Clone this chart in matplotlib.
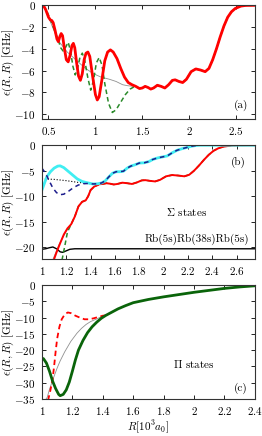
import numpy as np
import matplotlib
matplotlib.use("Agg")
import matplotlib.pyplot as plt
from matplotlib.ticker import FuncFormatter

plt.rcParams['font.family'] = 'serif'
plt.rcParams['font.serif'] = ['cmr10']
plt.rcParams['mathtext.fontset'] = 'cm'
plt.rcParams['axes.unicode_minus'] = False
plt.rcParams['font.size'] = 8

# panel (a)
a_red_x = [0.445, 0.47, 0.50, 0.52, 0.535, 0.55, 0.57, 0.59, 0.605, 0.62, 0.635, 0.65, 0.67, 0.69, 0.71,
           0.73, 0.75, 0.765, 0.78, 0.80, 0.82, 0.84, 0.86, 0.88, 0.90, 0.92, 0.94, 0.97, 1.00, 1.02,
           1.04, 1.07, 1.10, 1.13, 1.16, 1.19, 1.23, 1.27, 1.31, 1.35, 1.39, 1.43]
a_red_y = [0, -0.4, -1.1, -1.35, -1.4, -1.6, -2.3, -3.1, -3.35, -2.9, -2.6, -2.8, -4.0, -5.0, -5.2,
           -4.6, -3.7, -3.5, -3.9, -5.3, -6.5, -6.9, -6.3, -5.0, -4.4, -4.3, -4.7, -6.5, -8.2, -8.7,
           -8.4, -6.8, -5.1, -4.3, -4.1, -4.3, -4.9, -5.8, -6.6, -7.1, -7.3, -7.45]
a_green_x = [0.445, 0.48, 0.52, 0.56, 0.60, 0.63, 0.655, 0.68, 0.71, 0.735, 0.76, 0.785, 0.81, 0.835,
             0.86, 0.885, 0.92, 0.95, 0.98, 1.01, 1.04, 1.07, 1.10, 1.14, 1.18, 1.22, 1.27, 1.32, 1.37,
             1.41, 1.43]
a_green_y = [0, -0.5, -1.3, -2.2, -3.1, -3.9, -4.2, -3.9, -3.4, -4.2, -5.6, -6.4, -5.8, -4.8,
             -4.4, -5.0, -6.7, -7.8, -6.9, -5.3, -4.8, -5.5, -7.2, -9.0, -9.85, -9.6, -8.9, -8.2, -7.7,
             -7.5, -7.45]
a_gray_x = [0.445, 0.50, 0.60, 0.70, 0.79, 0.88, 0.97, 1.06, 1.15, 1.22, 1.29, 1.35, 1.43]
a_gray_y = [0, -1.1, -3.2, -4.3, -5.0, -5.7, -6.25, -6.6, -6.8, -7.0, -7.3, -7.4, -7.45]

# common long-range tail of the Sigma curve
tail_x = [1.47, 1.50, 1.53, 1.56, 1.59, 1.62, 1.66, 1.70, 1.74, 1.78, 1.82, 1.85, 1.89, 1.93, 1.97,
          2.02, 2.07, 2.12, 2.17, 2.21, 2.25, 2.29, 2.33, 2.37, 2.41, 2.45, 2.49, 2.55, 2.60, 2.75]
tail_y = [-7.65, -7.6, -7.45, -7.55, -7.7, -7.6, -7.35, -7.45, -7.6, -7.3, -6.9, -6.85, -7.0, -7.1, -6.8,
          -6.1, -5.85, -5.95, -6.1, -5.8, -5.0, -4.0, -2.9, -1.9, -1.1, -0.6, -0.3, -0.08, -0.02, 0]

# panel (b)
b_red_x = [1.09, 1.12, 1.15, 1.18, 1.21, 1.24, 1.27, 1.30, 1.33, 1.36, 1.38, 1.40, 1.43, 1.46]
b_red_y = [-23, -21.0, -19.2, -17.5, -16.3, -15.5, -14.0, -12.0, -11.1, -10.8, -10.0, -8.8, -8.1, -7.8]
b_green_x = [1.165, 1.19, 1.21, 1.23]
b_green_y = [-22.5, -19.5, -17.0, -16.0]
b_gray_x = [1.08, 1.14, 1.20, 1.22]
b_gray_y = [-23, -19.5, -16.8, -16.2]
b_cyan_x = [1.0, 1.02, 1.04, 1.07, 1.10, 1.13, 1.15, 1.18, 1.21, 1.25, 1.29, 1.33, 1.37, 1.42, 1.46,
            1.49, 1.52, 1.55, 1.58, 1.61, 1.64, 1.67, 1.70, 1.73, 1.77, 1.80, 1.84, 1.88, 1.91, 1.95,
            1.99, 2.03, 2.07, 2.11, 2.15, 2.19, 2.23, 2.27, 2.30, 2.75]
b_cyan_y = [-8.8, -7.5, -6.2, -5.2, -4.5, -4.1, -4.05, -4.4, -5.0, -5.8, -6.6, -7.1, -7.35, -7.6, -7.55,
            -7.4, -7.0, -6.2, -5.5, -5.2, -5.2, -5.1, -4.5, -4.1, -3.8, -3.5, -3.45, -3.2, -2.8, -2.5,
            -2.3, -2.1, -1.5, -1.0, -0.7, -0.45, -0.2, -0.05, 0, 0]
b_navy_x = [1.0, 1.03, 1.06, 1.09, 1.12, 1.15, 1.18, 1.22, 1.26, 1.30, 1.34, 1.38, 1.42]
b_navy_y = [-4.5, -5.5, -7.0, -8.4, -9.3, -9.7, -9.6, -9.0, -8.3, -7.8, -7.55, -7.5, -7.6]
b_dot_x = [1.0, 1.1, 1.2, 1.3, 1.4, 1.45]
b_dot_y = [-6.6, -6.7, -6.95, -7.3, -7.55, -7.6]
b_black_x = [1.0, 1.03, 1.06, 1.09, 1.12, 1.15, 1.17, 1.20, 1.23, 1.27, 2.75]
b_black_y = [-20.4, -20.3, -20.1, -19.95, -20.3, -20.9, -21.0, -20.7, -20.4, -20.3, -20.3]

# panel (c)
c_green_x = [1.0, 1.01, 1.03, 1.05, 1.07, 1.09, 1.11, 1.12, 1.14, 1.16, 1.18, 1.20, 1.22, 1.24, 1.27,
             1.30, 1.33, 1.36, 1.39, 1.42, 1.46, 1.50, 1.55, 1.60, 1.70, 1.80, 1.90, 2.00, 2.10, 2.20,
             2.30, 2.40]
c_green_y = [-22.5, -22.6, -24.0, -26.5, -29.5, -31.8, -33.6, -34.0, -33.6, -32.2, -29.8, -26.5, -23.0,
             -20.0, -17.0, -14.6, -12.8, -11.4, -10.2, -9.3, -8.3, -7.3, -6.3, -5.4, -4.4, -3.6, -2.9,
             -2.2, -1.6, -1.0, -0.55, -0.2]
c_red_x = [1.04, 1.055, 1.07, 1.08, 1.09, 1.10, 1.115, 1.13, 1.15, 1.17, 1.19, 1.22, 1.25, 1.28, 1.31,
           1.34, 1.37, 1.40, 1.42]
c_red_y = [-35.5, -32.5, -29.0, -25.0, -20.5, -16.5, -12.8, -10.5, -9.0, -8.4, -8.6, -9.4, -10.0, -10.5,
           -10.5, -10.2, -9.8, -9.4, -9.3]
c_gray_x = [1.02, 1.035, 1.05, 1.07, 1.10, 1.12, 1.15, 1.19, 1.23, 1.26, 1.29, 1.32, 1.36, 1.40, 1.42]
c_gray_y = [-35.5, -34.5, -32.0, -29.3, -25.5, -23.3, -20.5, -17.3, -14.8, -13.3, -12.1, -11.2, -10.4,
            -9.5, -9.3]

fmt = FuncFormatter(lambda v, p: '$%g$' % round(v, 3))

fig = plt.figure(figsize=(2.62, 4.36), dpi=100)
axa = fig.add_axes([0.160, 0.727, 0.813, 0.261])
axb = fig.add_axes([0.160, 0.406, 0.813, 0.261])
axc = fig.add_axes([0.160, 0.085, 0.813, 0.261])

# (a)
axa.plot(a_gray_x, a_gray_y, color='#909090', lw=0.6)
axa.plot(a_green_x + tail_x, a_green_y + tail_y, color='#2a8a2a', lw=1.1, dashes=(3, 2))
axa.plot(a_red_x + tail_x, a_red_y + tail_y, color='red', lw=2.0)
axa.set_xlim(0.43, 2.7)
axa.set_ylim(-10.45, 0)
axa.set_xticks([0.5, 1, 1.5, 2, 2.5])
axa.set_yticks([0, -2, -4, -6, -8, -10])
axa.text(2.55, -9.15, '(a)', ha='center', va='center')

# (b)
axb.plot(b_black_x, b_black_y, color='black', lw=1.0)
axb.plot(b_gray_x, b_gray_y, color='#909090', lw=0.6)
axb.plot(b_green_x + b_red_x[5:] + tail_x, b_green_y + b_red_y[5:] + tail_y,
         color='#2a8a2a', lw=1.1, dashes=(3, 2))
axb.plot(b_red_x + tail_x, b_red_y + tail_y, color='red', lw=1.4)
axb.plot(b_dot_x, b_dot_y, color='black', lw=0.8, ls=':')
axb.plot(b_cyan_x, b_cyan_y, color='#40eef2', lw=2.0)
axb.plot(b_navy_x + b_cyan_x[14:], b_navy_y + b_cyan_y[14:], color='#1c1c8c', lw=1.1, dashes=(3, 2.5))
axb.set_xlim(1, 2.75)
axb.set_ylim(-22.3, 0)
axb.set_xticks([1, 1.2, 1.4, 1.6, 1.8, 2, 2.2, 2.4, 2.6])
axb.set_yticks([0, -5, -10, -15, -20])
axb.text(2.61, -3.3, '(b)', ha='center', va='center')
axb.text(2.19, -13.0, r'$\Sigma$ states', ha='center', va='center')
axb.text(2.27, -18.4, 'Rb(5s)Rb(38s)Rb(5s)', ha='center', va='center')

# (c)
axc.plot(c_gray_x, c_gray_y, color='#909090', lw=0.6)
axc.plot(c_red_x, c_red_y, color='red', lw=1.3, dashes=(3, 2))
axc.plot(c_green_x, c_green_y, color='#0a640a', lw=2.0)
axc.set_xlim(1, 2.4)
axc.set_ylim(-35, 0)
axc.set_xticks([1, 1.2, 1.4, 1.6, 1.8, 2, 2.2, 2.4])
axc.set_yticks([0, -5, -10, -15, -20, -25, -30, -35])
axc.text(2.31, -31.6, '(c)', ha='center', va='center')
axc.text(2.0, -24.2, r'$\Pi$ states', ha='center', va='center')
axc.set_xlabel(r'$R[10^3a_0]$', labelpad=1)

for ax in (axa, axb, axc):
    ax.tick_params(direction='in', top=True, right=True, length=3, width=0.6, pad=4.5)
    ax.xaxis.set_major_formatter(fmt)
    ax.yaxis.set_major_formatter(fmt)
    for s in ax.spines.values():
        s.set_linewidth(0.8)
        s.set_color('#333333')
    ax.set_ylabel(r'$\epsilon(R,R)$ [GHz]')
    ax.yaxis.set_label_coords(-0.12, 0.5)

fig.savefig('out.png', dpi=100)
